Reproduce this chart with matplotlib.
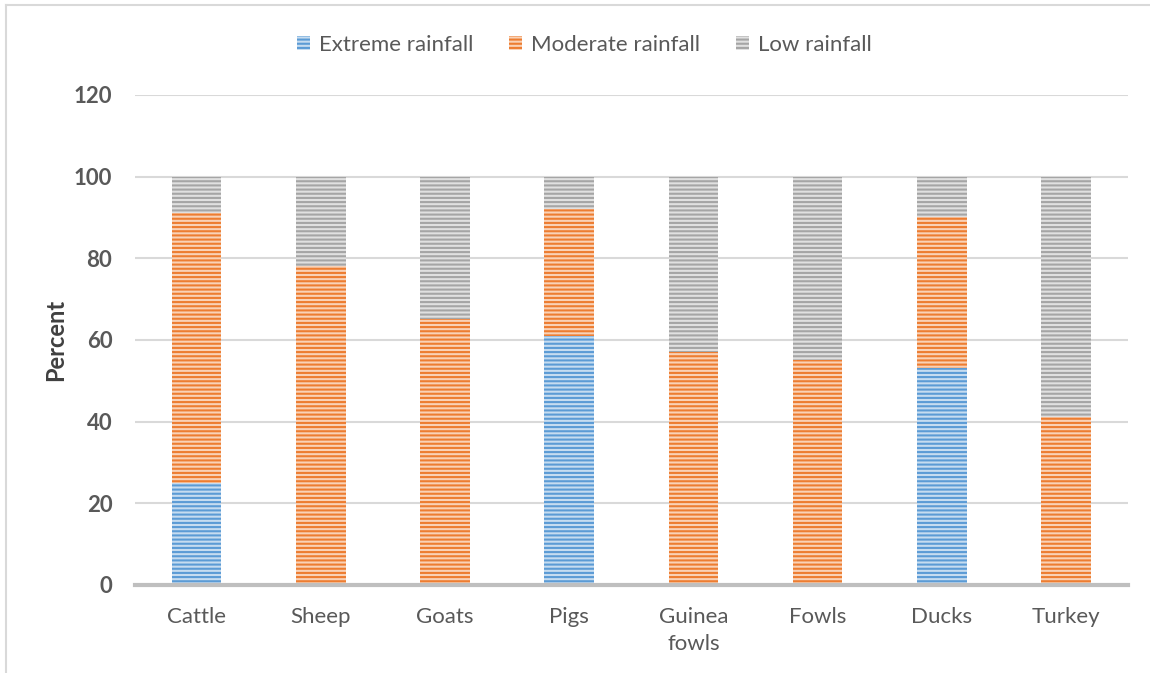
import numpy as np
import matplotlib.pyplot as plt
from matplotlib.colors import to_rgb
from matplotlib.lines import Line2D

# Percent of respondents per livestock type and rainfall level
animales = ["Cattle", "Sheep", "Goats", "Pigs", "Guinea\nfowls", "Fowls", "Ducks", "Turkey"]
extreme = [25, 0, 0, 61, 0, 0, 53, 0]
moderate = [66, 78, 65, 31, 57, 55, 37, 41]
low = [9, 22, 35, 8, 43, 45, 10, 59]

series = ["Extreme rainfall", "Moderate rainfall", "Low rainfall"]
colores = ["#5B9BD5", "#ED7D31", "#A5A5A5"]


def aclarar(color, f=0.65):
    r, g, b = to_rgb(color)
    return (r + (1 - r) * f, g + (1 - g) * f, b + (1 - b) * f)


plt.rcParams['font.family'] = ['Lato', 'DejaVu Sans']
plt.rcParams['hatch.linewidth'] = 1.5

fig = plt.figure(figsize=(11.5, 6.73), dpi=100)
ax = fig.add_axes([0.117, 0.131, 0.864, 0.728])

x = np.arange(len(animales))
base = np.zeros(len(animales))
for nombre, valores, color in zip(series, [extreme, moderate, low], colores):
    ax.bar(x, valores, 0.4, bottom=base, facecolor=aclarar(color),
           edgecolor=color, hatch="----", linewidth=0, label=nombre, zorder=3)
    base += np.array(valores)

ax.set_xlim(-0.5, len(animales) - 0.5)
ax.set_ylim(0, 120)
ax.set_yticks(range(0, 121, 20))
ax.set_xticks(x)
ax.set_xticklabels(animales, fontsize=16, color="#595959", linespacing=1.45)
for t in ax.get_yticklabels():
    t.set_fontweight("bold")
    t.set_fontsize(16)
    t.set_color("#595959")
ax.tick_params(axis="both", length=0)
ax.tick_params(axis="y", pad=16)
ax.tick_params(axis="x", pad=16)

ax.grid(axis="y", color="#D9D9D9", linewidth=1.5, zorder=0)
for lado in ["top", "right", "left"]:
    ax.spines[lado].set_visible(False)
ax.spines["bottom"].set_color("#BFBFBF")
ax.spines["bottom"].set_linewidth(3)
ax.spines["bottom"].set_zorder(4)

ax.set_ylabel("Percent", fontsize=17, fontweight="bold", color="#404040", labelpad=5)

leg = fig.legend(loc="upper center", bbox_to_anchor=(0.508, 0.978), ncol=3, frameon=False,
                 fontsize=16, handlelength=0.6, handleheight=0.6, columnspacing=1.6,
                 handletextpad=0.4)
for t in leg.get_texts():
    t.set_color("#595959")

# Marco del grafico (lineas superior e izquierda)
fig.add_artist(Line2D([0.005, 0.005], [0.0, 0.992], transform=fig.transFigure,
                      color="#D9D9D9", linewidth=1.5))
fig.add_artist(Line2D([0.005, 1.0], [0.992, 0.992], transform=fig.transFigure,
                      color="#D9D9D9", linewidth=1.5))

fig.savefig("out.png", dpi=100)
